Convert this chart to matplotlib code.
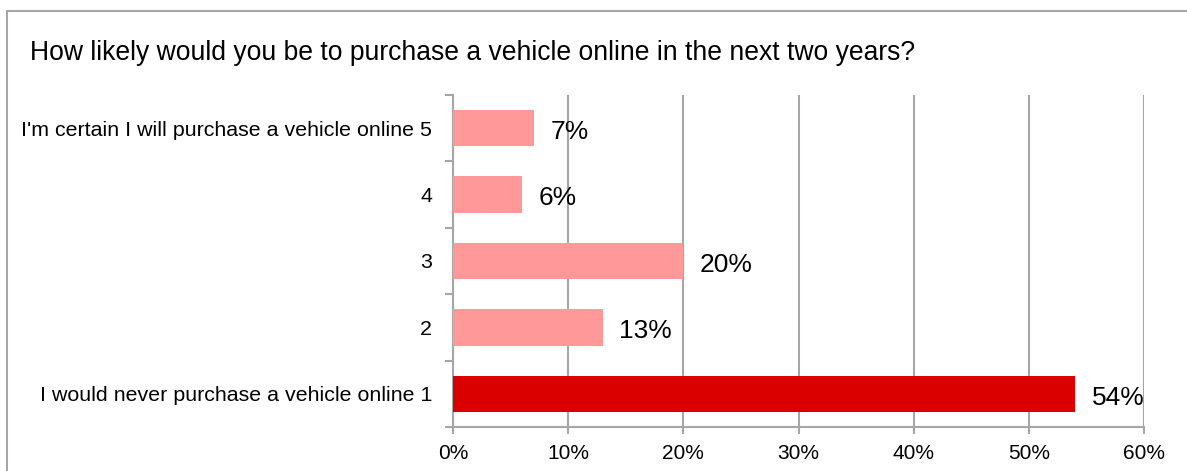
import matplotlib
matplotlib.use('Agg')
import matplotlib.pyplot as plt
from matplotlib.patches import Rectangle

TITLE = 'How likely would you be to purchase a vehicle online in the next two years?'
CATEGORIES = [
    'I would never purchase a vehicle online 1',
    '2',
    '3',
    '4',
    "I'm certain I will purchase a vehicle online 5",
]
PERCENTS = [54, 13, 20, 6, 7]
BAR_COLORS = ['#DB0000', '#FF9999', '#FF9999', '#FF9999', '#FF9999']
X_TICKS = [0, 10, 20, 30, 40, 50, 60]

plt.rcParams['font.family'] = ['Liberation Sans', 'DejaVu Sans']

W, H = 1187, 471
fig = plt.figure(figsize=(W / 100, H / 100), dpi=100)
ax = fig.add_axes([453 / W, 1 - 427 / H, (1144 - 453) / W, (427 - 95) / H])

# outer border of the chart area (only top and left are visible)
fig.patches.append(Rectangle((7 / W, -0.1), 1.2, 1.1 - 11 / H, transform=fig.transFigure,
                             fill=False, edgecolor='#A6A6A6', linewidth=1.5))

grid_color = '#A6A6A6'
y = list(range(len(CATEGORIES)))
ax.barh(y, PERCENTS, height=0.55, color=BAR_COLORS, zorder=3)

for yi, v in zip(y, PERCENTS):
    ax.annotate(f'{v}%', (v, yi), xytext=(12, -1), textcoords='offset points',
                va='center_baseline', ha='left', fontsize=19)

ax.set_xlim(0, 60)
ax.set_ylim(-0.5, len(CATEGORIES) - 0.5)
ax.set_xticks(X_TICKS)
ax.set_xticklabels([f'{t}%' for t in X_TICKS])
ax.set_yticks(y)
ax.set_yticklabels(CATEGORIES)
ax.set_yticks([i - 0.5 for i in range(len(CATEGORIES) + 1)], minor=True)

ax.tick_params(axis='y', which='major', length=0, pad=15, labelsize=15.4)
ax.tick_params(axis='y', which='minor', length=6, width=1.5, color=grid_color)
ax.tick_params(axis='x', length=5, width=1.5, color=grid_color, labelsize=15, pad=7)

ax.grid(axis='x', color=grid_color, linewidth=1.5, zorder=0)
ax.set_axisbelow(True)
for s in ['top', 'right']:
    ax.spines[s].set_visible(False)
for s in ['left', 'bottom']:
    ax.spines[s].set_color(grid_color)
    ax.spines[s].set_linewidth(1.5)

fig.text(30 / W, 1 - 60 / H, TITLE, fontsize=19.1, ha='left', va='baseline')

fig.savefig('out.png', dpi=100)
